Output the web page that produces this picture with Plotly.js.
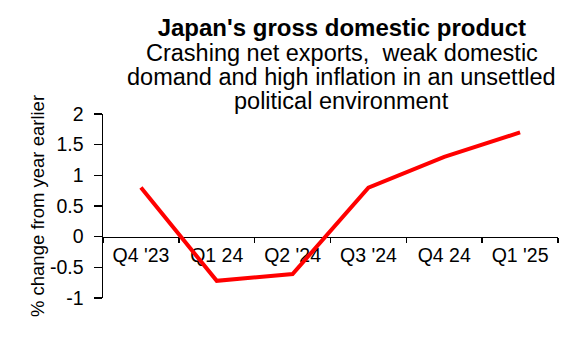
<!DOCTYPE html>
<html>
<head>
<meta charset="utf-8">
<script src="https://cdn.plot.ly/plotly-3.0.1.min.js"></script>
<style>html,body{margin:0;padding:0;background:#fff;}#chart{width:580px;height:360px;}</style>
</head>
<body>
<div id="chart"></div>
<script>
const categories = ["Q4 '23", "Q1 24", "Q2 '24", "Q3 '24", "Q4 24", "Q1 '25"];
const gdpChange = [0.8, -0.72, -0.61, 0.8, 1.3, 1.7];
const yTickVals = [-1, -0.5, 0, 0.5, 1, 1.5, 2];
const yTickText = ["-1", "-0.5", "0", "0.5", "1", "1.5", "2"];
const titleText = "Japan's gross domestic product";
const subtitleLines = [
  "Crashing net exports,  weak domestic",
  "domand and high inflation in an unsettled",
  "political environment"
];
const yTitle = "% change from year earlier";

const FONT = "Liberation Sans, Arial, sans-serif";
const plotTop = 114, plotBottom = 298;
function paperY(px) { return (plotBottom - px) / (plotBottom - plotTop); }

const subtitleY = [53, 77, 101];
const annotations = subtitleLines.map((t, i) => ({
  text: t, xref: 'paper', yref: 'paper', x: 0.525, y: paperY(subtitleY[i]),
  xanchor: 'center', yanchor: 'middle', showarrow: false,
  font: {family: FONT, size: 23.5, color: '#000'}
}));

const trace = {
  type: 'scatter', mode: 'lines', x: categories, y: gdpChange,
  line: {color: '#ff0000', width: 4}, hoverinfo: 'skip'
};

const layout = {
  width: 580, height: 360,
  margin: {l: 103, r: 22, t: plotTop, b: 360 - plotBottom},
  paper_bgcolor: '#fff', plot_bgcolor: '#fff',
  showlegend: false,
  title: {
    text: '<b>' + titleText + '</b>', xref: 'paper', x: 0.525, xanchor: 'center',
    yref: 'container', y: 1 - 28 / 360, yanchor: 'middle',
    font: {family: FONT, size: 24, color: '#000'}
  },
  annotations: annotations,
  xaxis: {
    type: 'category', range: [-0.5, 5.5],
    anchor: 'free', position: 1 / 3,
    showline: true, linecolor: '#000', linewidth: 1.5,
    ticks: 'outside', tickson: 'boundaries', ticklen: 5, tickwidth: 1.5, tickcolor: '#000',
    showgrid: false, zeroline: false,
    tickfont: {family: FONT, size: 19.5, color: '#000'},
    layer: 'below traces'
  },
  yaxis: {
    range: [-1, 2], tickvals: yTickVals, ticktext: yTickText,
    showline: true, linecolor: '#000', linewidth: 1.5,
    ticks: 'outside', ticklen: 8, tickwidth: 1.5, tickcolor: '#000',
    showgrid: false, zeroline: false,
    tickfont: {family: FONT, size: 19.5, color: '#000'},
    ticklabelstandoff: 6,
    title: {text: yTitle, font: {family: FONT, size: 18.5, color: '#000'}, standoff: 0}
  }
};

Plotly.newPlot('chart', [trace], layout, {staticPlot: true, displayModeBar: false});
</script>
</body>
</html>
